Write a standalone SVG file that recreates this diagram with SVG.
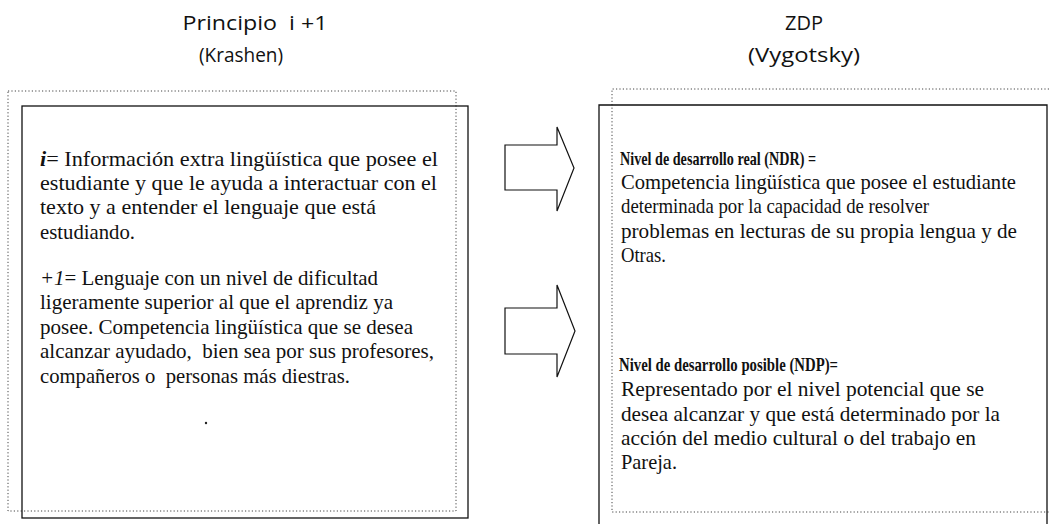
<svg xmlns="http://www.w3.org/2000/svg" width="1049" height="524" viewBox="0 0 1049 524">
<style>
.bg{fill:#ffffff}
.solid{fill:none;stroke:#111;stroke-width:1.3}
.dot{fill:none;stroke:#444;stroke-width:1;stroke-dasharray:1.2 2.2}
.title{font-family:"Open Sans","DejaVu Sans",sans-serif;font-size:20px;fill:#111;text-anchor:middle}
.body{font-family:"Times New Roman","Liberation Serif",Tinos,"Nimbus Roman",serif;font-size:21px;font-weight:normal;fill:#111}
.b{font-weight:bold;font-size:19px}
.it{font-style:italic}
.arrow{fill:#fff;stroke:#111;stroke-width:1.2;stroke-linejoin:miter}
</style>
<rect class="bg" x="0" y="0" width="1049" height="524"/>

<g id="title-left">
<text class="title" x="255" y="30" textLength="145" lengthAdjust="spacingAndGlyphs" xml:space="preserve">Principio  i +1</text>
<text class="title" x="241" y="62" textLength="84" lengthAdjust="spacingAndGlyphs">(Krashen)</text>
</g>
<g id="title-right">
<text class="title" x="804" y="30" textLength="38" lengthAdjust="spacingAndGlyphs">ZDP</text>
<text class="title" x="804" y="62" textLength="112" lengthAdjust="spacingAndGlyphs">(Vygotsky)</text>
</g>

<g id="node-krashen">
<rect class="dot" x="8" y="91" width="448" height="420"/>
<rect class="solid" x="22" y="106" width="446" height="412"/>
<text class="body" x="40" y="166" textLength="398" lengthAdjust="spacingAndGlyphs"><tspan class="it" font-weight="bold">i</tspan>= Información extra lingüística que posee el</text>
<text class="body" x="40" y="190" textLength="397" lengthAdjust="spacingAndGlyphs">estudiante y que le ayuda a interactuar con el</text>
<text class="body" x="40" y="214" textLength="336" lengthAdjust="spacingAndGlyphs">texto y a entender el lenguaje que está</text>
<text class="body" x="40" y="239" textLength="95" lengthAdjust="spacingAndGlyphs">estudiando.</text>
<text class="body" x="40" y="285" textLength="338" lengthAdjust="spacingAndGlyphs"><tspan class="it">+1</tspan>= Lenguaje con un nivel de dificultad</text>
<text class="body" x="40" y="309" textLength="353" lengthAdjust="spacingAndGlyphs">ligeramente superior al que el aprendiz ya</text>
<text class="body" x="40" y="334" textLength="373" lengthAdjust="spacingAndGlyphs">posee. Competencia lingüística que se desea</text>
<text class="body" x="40" y="358" textLength="394" lengthAdjust="spacingAndGlyphs" xml:space="preserve">alcanzar ayudado,  bien sea por sus profesores,</text>
<text class="body" x="40" y="383" textLength="310" lengthAdjust="spacingAndGlyphs" xml:space="preserve">compañeros o  personas más diestras.</text>
<circle cx="206" cy="423" r="1.2" fill="#222"/>
</g>

<g id="node-vygotsky">
<path class="dot" d="M1049,89 H612 V512 H1049"/>
<path class="solid" d="M599,526 V105 H1047 V526"/>
<text class="body b" x="620" y="165" textLength="196" lengthAdjust="spacingAndGlyphs">Nivel de desarrollo real (NDR) =</text>
<text class="body" x="621" y="189" textLength="395" lengthAdjust="spacingAndGlyphs">Competencia lingüística que posee el estudiante</text>
<text class="body" x="621" y="213" textLength="308" lengthAdjust="spacingAndGlyphs">determinada por la capacidad de resolver</text>
<text class="body" x="621" y="238" textLength="396" lengthAdjust="spacingAndGlyphs">problemas en lecturas de su propia lengua y de</text>
<text class="body" x="621" y="262" textLength="45" lengthAdjust="spacingAndGlyphs">Otras.</text>
<text class="body b" x="619" y="371" textLength="219" lengthAdjust="spacingAndGlyphs">Nivel de desarrollo posible (NDP)=</text>
<text class="body" x="621" y="396" textLength="363" lengthAdjust="spacingAndGlyphs">Representado por el nivel potencial que se</text>
<text class="body" x="621" y="421" textLength="379" lengthAdjust="spacingAndGlyphs">desea alcanzar y que está determinado por la</text>
<text class="body" x="621" y="445" textLength="355" lengthAdjust="spacingAndGlyphs">acción del medio cultural o del trabajo en</text>
<text class="body" x="621" y="469" textLength="56" lengthAdjust="spacingAndGlyphs">Pareja.</text>
</g>

<g id="connectors">
<path class="arrow" d="M505,145 H557 V127 L574,168 L557,211 V190 H505 Z"/>
<path class="arrow" d="M505,308 H557 V285 L575,331 L557,377 V354 H505 Z"/>
</g>
</svg>
